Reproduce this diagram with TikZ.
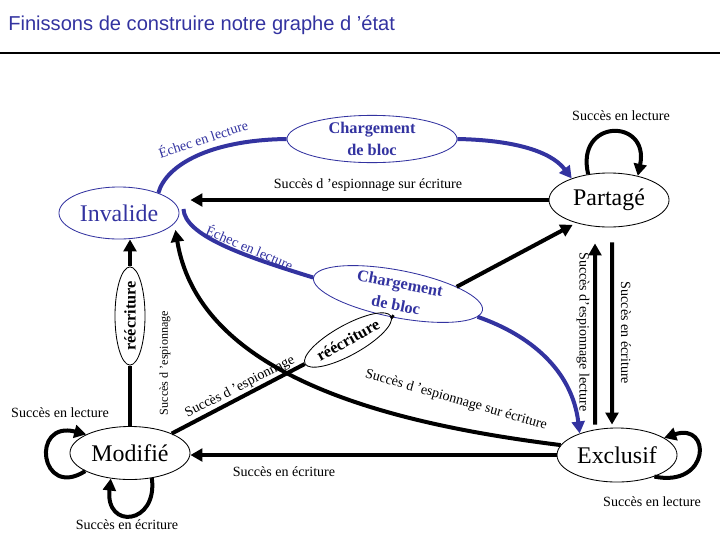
\documentclass[tikz,border=0pt]{standalone}
\usepackage{fontspec}
\setmainfont{Liberation Serif}
\newfontfamily\titlefont{Liberation Sans}
\usetikzlibrary{shapes.geometric,arrows.meta}
\definecolor{myblue}{RGB}{51,51,160}
\begin{document}
\begin{tikzpicture}[x=0.025cm,y=-0.025cm,
  state/.style={ellipse,draw,line width=0.6pt,inner sep=0pt,minimum width=3cm,minimum height=1.35cm,font=\fontsize{17}{20}\selectfont},
  chgbox/.style={ellipse,draw=myblue,line width=0.6pt,text=myblue,inner sep=0pt,align=center,font=\fontsize{11.6}{15.6}\selectfont\bfseries},
  rwbox/.style={ellipse,draw,line width=0.6pt,inner sep=0pt,font=\fontsize{11.6}{14}\selectfont\bfseries,minimum height=0.75cm},
  lbl/.style={font=\fontsize{10}{12}\selectfont,inner sep=0pt},
  thickline/.style={line width=1mm},
  arr/.style={line width=1mm,-{Triangle[length=3mm,width=3.2mm]}},
  bluearr/.style={arr,myblue},
  blueline/.style={thickline,myblue}]
\useasboundingbox (0,0) rectangle (720,540);
% title
\node[anchor=base west,text=myblue,font=\titlefont\fontsize{14.3}{17}\selectfont,inner sep=0pt] (title) at (8,30) {Finissons de construire notre graphe d ’état};
\coordinate (r1) at (0,53); \coordinate (r2) at (720,53);
\draw[line width=0.8pt] (r1) -- (r2);
% states
\node[state,draw=myblue,text=myblue,minimum height=1.3cm] (inv) at (119,213) {Invalide};
\node[chgbox,minimum width=4.25cm,minimum height=1.125cm] (chg1) at (372,139) {Chargement\\de bloc};
\node[state] (par) at (609,200) {Partagé};
\node[state] (exc) at (617,455) {Exclusif};
\node[state,minimum height=1.325cm] (mod) at (130,453) {Modifié};
\node[rwbox,rotate=90,minimum width=2.175cm] (rw1) at (130,316) {réécriture};
\node[chgbox,rotate=-11,minimum width=4.3cm,minimum height=1.1cm] (chg2) at (398,294) {Chargement\\de bloc};
\node[rwbox,rotate=29,minimum width=2.35cm] (rw2) at (348,340) {réécriture};
% blue edges
\draw[blueline] (inv.27) .. controls (166,165) and (210,140) .. (chg1.west);
\draw[bluearr] (chg1.east) .. controls (510,140) and (550,150) .. (par.150);
\node[lbl,text=myblue,rotate=18] (le1) at (203,138) {Échec en lecture};
\draw[blueline] ([shift={(0.1cm,0.1cm)}]inv.east) .. controls (185,235) and (240,255) .. (chg2.west);
\draw[bluearr] (chg2.355) .. controls (530,335) and (572,370) .. (exc.150);
\node[lbl,text=myblue,rotate=-23] (le2) at (250,247) {Échec en lecture};
% Partagé -> Invalide
\draw[arr,shorten >=0.275cm] (par.west) -- (par.west -| inv.east);
\node[lbl] (l1) at (368,185) {Succès d ’espionnage sur écriture};
% Modifié -> réécriture -> Invalide
\draw[thickline] (mod.north) -- (rw1.west);
\draw[arr] (rw1.east) -- (rw1.east |- inv.south);
\node[lbl,rotate=90,font=\fontsize{8.6}{10}\selectfont] (l2) at (165,363) {Succès d ’espionnage};
% Modifié -> réécriture -> Chargement -> Partagé
\draw[thickline] (mod.25) -- (rw2.west);
\draw[thickline] (rw2.east) -- (chg2.south);
\draw[arr,shorten >=0.1cm] (chg2.18) -- (par.215);
\node[lbl,rotate=27] (l3) at (240,387) {Succès d ’espionnage};
% Exclusif -> Invalide big arc
\draw[arr] (exc.170) .. controls (400,425) and (200,380) .. ([xshift=0.25cm]inv.340);
\node[lbl,rotate=-16] (l4) at (456,400) {Succès d ’espionnage sur écriture};
% Exclusif -> Modifié
\draw[arr] (exc.west) -- (exc.west -| mod.east);
\node[lbl] (l5) at (284,472) {Succès en écriture};
% Exclusif <-> Partagé
\draw[arr] ([xshift=-0.55cm,yshift=0.075cm]exc.north) -- ([xshift=-0.35cm,yshift=-0.4cm]par.south);
\draw[arr] ([xshift=0.075cm,yshift=-0.375cm]par.south) -- ([xshift=-0.125cm,yshift=0.075cm]exc.north);
\node[lbl,rotate=-90] (l6) at (583,332) {Succès d’espionnage lecture};
\node[lbl,rotate=-90] (l7) at (626,333) {Succès en écriture};
% self loops
\draw[arr] (par.129) .. controls (575,118) and (650,118) .. (par.40);
\node[lbl] (lp) at (621,116) {Succès en lecture};
\draw[arr] (exc.330) .. controls (710,488) and (712,422) .. (exc.20);
\node[lbl] (lx) at (652,502) {Succès en lecture};
\draw[arr] (mod.202) .. controls (40,500) and (30,420) .. (mod.157);
\node[lbl] (lml) at (60,413) {Succès en lecture};
\draw[arr] (mod.311) .. controls (158,525) and (105,530) .. (mod.233);
\node[lbl] (lmb) at (127,525) {Succès en écriture};
\end{tikzpicture}
\end{document}
